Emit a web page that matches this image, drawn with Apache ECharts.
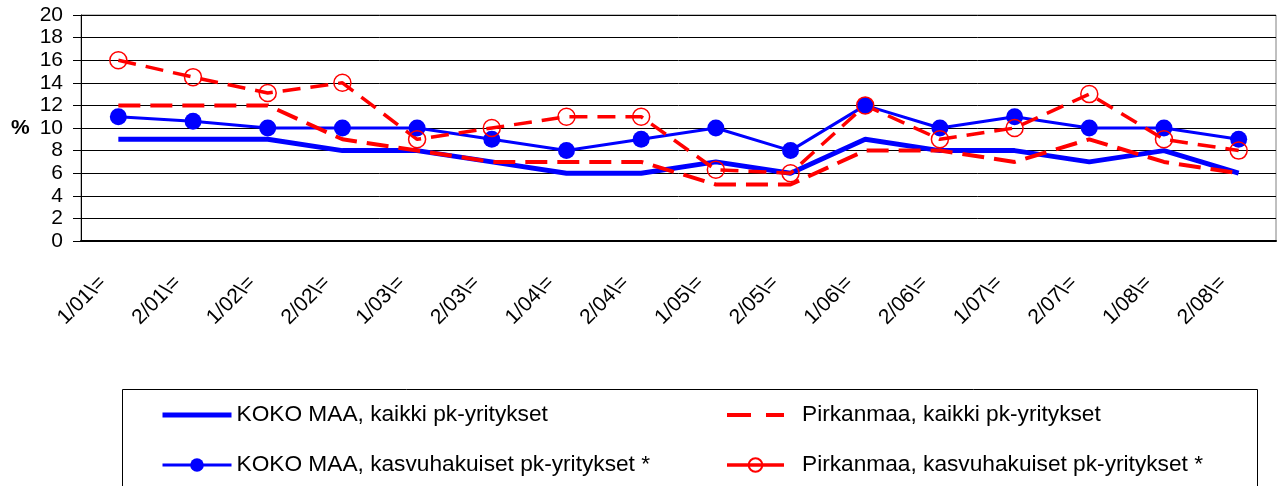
<!DOCTYPE html>
<html>
<head>
<meta charset="utf-8">
<script src="https://cdn.jsdelivr.net/npm/echarts@6/dist/echarts.min.js"></script>
<style>
  html, body { margin: 0; padding: 0; background: #fff; }
  #myChart { width: 1284px; height: 486px; }
</style>
</head>
<body>
<div id="myChart"></div>
<script>
// kaudet (x-akseli)
var categories = ['1/01\\=', '2/01\\=', '1/02\\=', '2/02\\=', '1/03\\=', '2/03\\=', '1/04\\=', '2/04\\=',
                  '1/05\\=', '2/05\\=', '1/06\\=', '2/06\\=', '1/07\\=', '2/07\\=', '1/08\\=', '2/08\\='];
// sarjat, %
var kokoKaikki = [9, 9, 9, 8, 8, 7, 6, 6, 7, 6, 9, 8, 8, 7, 8, 6];
var kokoKasvu  = [11, 10.6, 10, 10, 10, 9, 8, 9, 10, 8, 12, 10, 11, 10, 10, 9];
var pirKaikki  = [12, 12, 12, 9, 8, 7, 7, 7, 5, 5, 8, 8, 7, 9, 7, 6];
var pirKasvu   = [16, 14.5, 13.1, 14, 9, 10, 11, 11, 6.3, 6, 12, 9, 10, 13, 9, 8];
var names = ['KOKO MAA, kaikki pk-yritykset', 'KOKO MAA, kasvuhakuiset pk-yritykset *',
             'Pirkanmaa, kaikki pk-yritykset', 'Pirkanmaa, kasvuhakuiset pk-yritykset *'];

var font = 'Liberation Sans, Arial, sans-serif';
var myChart = echarts.init(document.getElementById('myChart'));

var legendText = { fontSize: 22.7, color: '#000', lineHeight: 24, fontFamily: font };

var option = {
  animation: false,
  textStyle: { fontFamily: font },
  grid: {
    left: 81, right: 8, top: 15, bottom: 245,
    show: true, borderColor: '#808080', borderWidth: 1,
    outerBoundsMode: 'none'
  },
  graphic: [
    {
      type: 'rect',
      shape: { x: 122.5, y: 389.5, width: 1135, height: 120 },
      style: { fill: 'none', stroke: '#000', lineWidth: 1 }
    },
    {
      type: 'text',
      x: 11, y: 128,
      style: { text: '%', font: 'bold 21px ' + font, fill: '#000', textVerticalAlign: 'middle' }
    }
  ],
  legend: [
    {
      data: [
        { name: names[0], itemStyle: { opacity: 0 }, lineStyle: { width: 5, type: 'solid' } },
        { name: names[1], lineStyle: { width: 3, type: 'solid' } }
      ],
      orient: 'vertical',
      left: 155, top: 398,
      itemWidth: 69, itemHeight: 17, itemGap: 26,
      textStyle: legendText
    },
    {
      data: [
        { name: names[2], itemStyle: { opacity: 0 }, lineStyle: { width: 4, type: [24, 15] } },
        { name: names[3], lineStyle: { width: 3.5, type: 'solid' } }
      ],
      orient: 'vertical',
      left: 720, top: 398,
      itemWidth: 57, itemHeight: 17, itemGap: 26,
      textStyle: Object.assign({ padding: [0, 0, 0, 13] }, legendText)
    }
  ],
  xAxis: {
    type: 'category',
    data: categories,
    boundaryGap: true,
    axisLine: { lineStyle: { color: '#000', width: 2 } },
    axisTick: { show: false },
    axisLabel: { rotate: 45, interval: 0, margin: 23, padding: [0, 22, 0, 0], fontSize: 21, color: '#000', fontFamily: font }
  },
  yAxis: {
    type: 'value',
    min: 0, max: 20, interval: 2,
    axisLine: { show: true, lineStyle: { color: '#000', width: 1 } },
    axisTick: { show: true, length: 8, lineStyle: { color: '#000' } },
    axisLabel: { margin: 18, fontSize: 21, color: '#000', fontFamily: font },
    splitLine: { lineStyle: { color: '#000', width: 1 } }
  },
  series: [
    {
      name: names[0], type: 'line', data: kokoKaikki,
      symbol: 'none',
      lineStyle: { color: '#0000ff', width: 5 },
      itemStyle: { color: '#0000ff' }
    },
    {
      name: names[1], type: 'line', data: kokoKasvu,
      symbol: 'circle', symbolSize: 17,
      lineStyle: { color: '#0000ff', width: 3 },
      itemStyle: { color: '#0000ff' }
    },
    {
      name: names[2], type: 'line', data: pirKaikki,
      symbol: 'none',
      lineStyle: { color: '#ff0000', width: 4, type: [22, 10] },
      itemStyle: { color: '#ff0000' }
    },
    {
      name: names[3], type: 'line', data: pirKasvu,
      symbol: 'circle', symbolSize: 17,
      lineStyle: { color: '#ff0000', width: 3.5, type: [18, 10] },
      itemStyle: { color: 'rgba(255,255,255,0)', borderColor: '#ff0000', borderWidth: 1.5 }
    }
  ]
};

window.onresize = myChart.resize;
myChart.setOption(option);
</script>
</body>
</html>
